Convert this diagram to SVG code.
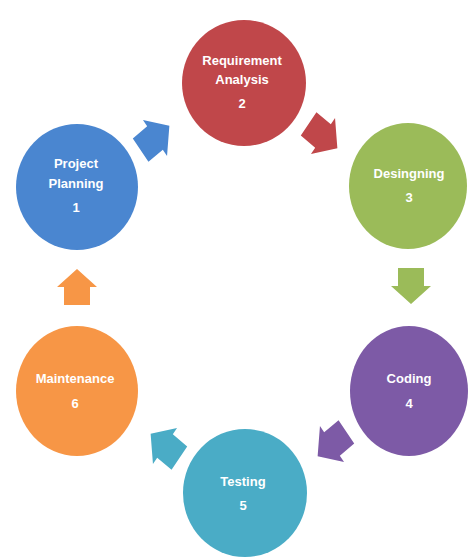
<svg xmlns="http://www.w3.org/2000/svg" width="469" height="559" viewBox="0 0 469 559">
<defs>
<style>
.lbl{font-family:"Liberation Sans",Arial,sans-serif;font-weight:bold;font-size:13px;fill:#ffffff;text-anchor:middle}
</style>
<polygon id="arr" points="-18,-13 0,-13 0,-20 18,0 0,20 0,13 -18,13"/>
</defs>
<rect width="469" height="559" fill="#ffffff"/>
<g id="connectors">
<use href="#arr" fill="#4a86d0" transform="translate(155,138) scale(1,1.12) rotate(-37)"/>
<use href="#arr" fill="#c0474a" transform="translate(323,136) scale(1,1.12) rotate(37)"/>
<use href="#arr" fill="#9bbb59" transform="translate(411,286) rotate(90)"/>
<use href="#arr" fill="#7d5aa6" transform="translate(332,444) scale(1,1.12) rotate(143)"/>
<use href="#arr" fill="#4aacc6" transform="translate(165,446) scale(1,1.12) rotate(217)"/>
<use href="#arr" fill="#f79646" transform="translate(77,287) rotate(-90)"/>
</g>
<g id="n1">
<ellipse cx="77" cy="187" rx="61" ry="63" fill="#4a86d0"/>
<text class="lbl" x="76" y="168">Project</text>
<text class="lbl" x="76" y="188">Planning</text>
<text class="lbl" x="76" y="212">1</text>
</g>
<g id="n2">
<ellipse cx="244" cy="83" rx="62" ry="63" fill="#c0474a"/>
<text class="lbl" x="242" y="65">Requirement</text>
<text class="lbl" x="242" y="84">Analysis</text>
<text class="lbl" x="242" y="108">2</text>
</g>
<g id="n3">
<ellipse cx="408" cy="186" rx="59" ry="63" fill="#9bbb59"/>
<text class="lbl" x="409" y="178">Desingning</text>
<text class="lbl" x="409" y="202">3</text>
</g>
<g id="n4">
<ellipse cx="409" cy="391" rx="59" ry="65" fill="#7d5aa6"/>
<text class="lbl" x="409" y="383">Coding</text>
<text class="lbl" x="409" y="408">4</text>
</g>
<g id="n5">
<ellipse cx="245" cy="493" rx="62" ry="64" fill="#4aacc6"/>
<text class="lbl" x="243" y="486">Testing</text>
<text class="lbl" x="243" y="510">5</text>
</g>
<g id="n6">
<ellipse cx="77" cy="391" rx="61" ry="65" fill="#f79646"/>
<text class="lbl" x="75" y="383">Maintenance</text>
<text class="lbl" x="75" y="408">6</text>
</g>
</svg>
